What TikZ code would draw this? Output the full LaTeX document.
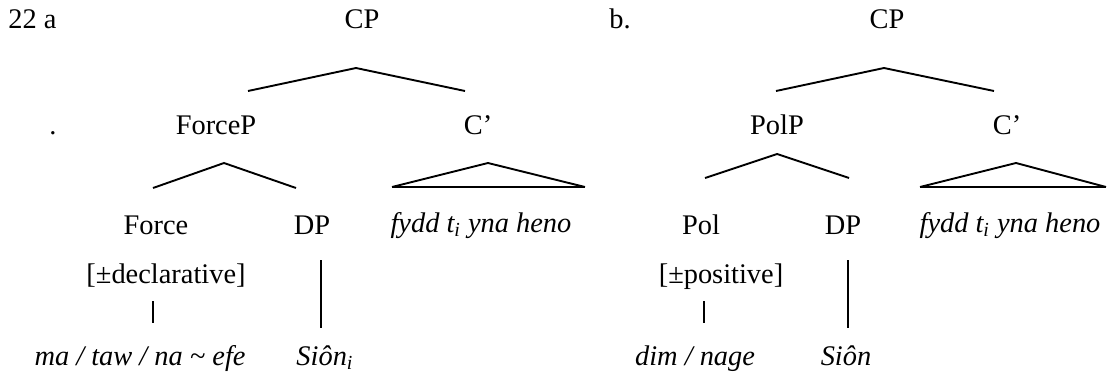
\documentclass[tikz,border=0pt]{standalone}
\usepackage{fontspec}
\setmainfont{Liberation Serif}
\begin{document}
\begin{tikzpicture}[x=0.5pt,y=-0.5pt,
  lab/.style={anchor=base,inner sep=0pt,font=\fontsize{14.2}{17}\selectfont},
  branch/.style={line width=0.95pt},
  stem/.style={line width=0.6pt},
  tribase/.style={line width=1.3pt}]
\useasboundingbox (0,0) rectangle (1107,375);
% ---------- tree a ----------
\node[lab,anchor=base west] (na) at (8,28) {22 a};
\node[lab] (cpa) at (362,28) {CP};
\node[lab] (dot) at (53,134) {.};
\node[lab] (forcep) at (216,134) {ForceP};
\node[lab] (cba) at (478,134) {C’};
\node[lab] (force) at (156,234) {Force};
\node[lab] (dpa) at (312,234) {DP};
\node[lab] (fydda) at (481,232) {\itshape fydd t\textsubscript{i} yna heno};
\node[lab] (decl) at (166,283) {[±declarative]};
\node[lab] (ma) at (140,365) {\itshape ma / taw / na \textasciitilde{} efe};
\node[lab] (siona) at (325,365) {\itshape Siôn\textsubscript{i}};
\coordinate (a1) at (356,68); \coordinate (a1l) at (248,91); \coordinate (a1r) at (465,91);
\coordinate (a2) at (224,163); \coordinate (a2l) at (153,188); \coordinate (a2r) at (296,188);
\coordinate (a3) at (488,163); \coordinate (a3l) at (392,187); \coordinate (a3r) at (585,187);
\coordinate (a4t) at (153,301); \coordinate (a4b) at (153,323);
\coordinate (a5t) at (321,260); \coordinate (a5b) at (321,328);
\draw[branch] (a1l) -- (a1) -- (a1r);
\draw[branch] (a2l) -- (a2) -- (a2r);
\draw[branch] (a3l) -- (a3) -- (a3r);
\draw[tribase] (a3l) -- (a3r);
\draw[stem] (a4t) -- (a4b);
\draw[stem] (a5t) -- (a5b);
% ---------- tree b ----------
\node[lab,anchor=base west] (nb) at (609,28) {b.};
\node[lab] (cpb) at (887,28) {CP};
\node[lab] (polp) at (777,134) {PolP};
\node[lab] (cbb) at (1007,134) {C’};
\node[lab] (pol) at (701,234) {Pol};
\node[lab] (dpb) at (843,234) {DP};
\node[lab] (fyddb) at (1010,232) {\itshape fydd t\textsubscript{i} yna heno};
\node[lab] (posv) at (721,283) {[±positive]};
\node[lab] (dim) at (695,365) {\itshape dim / nage};
\node[lab] (sionb) at (846,365) {\itshape Siôn};
\coordinate (b1) at (884,68); \coordinate (b1l) at (776,91); \coordinate (b1r) at (994,91);
\coordinate (b2) at (777,154); \coordinate (b2l) at (705,178); \coordinate (b2r) at (849,178);
\coordinate (b3) at (1016,163); \coordinate (b3l) at (920,187); \coordinate (b3r) at (1106,187);
\coordinate (b4t) at (704,301); \coordinate (b4b) at (704,323);
\coordinate (b5t) at (848,260); \coordinate (b5b) at (848,328);
\draw[branch] (b1l) -- (b1) -- (b1r);
\draw[branch] (b2l) -- (b2) -- (b2r);
\draw[branch] (b3l) -- (b3) -- (b3r);
\draw[tribase] (b3l) -- (b3r);
\draw[stem] (b4t) -- (b4b);
\draw[stem] (b5t) -- (b5b);
\end{tikzpicture}
\end{document}
